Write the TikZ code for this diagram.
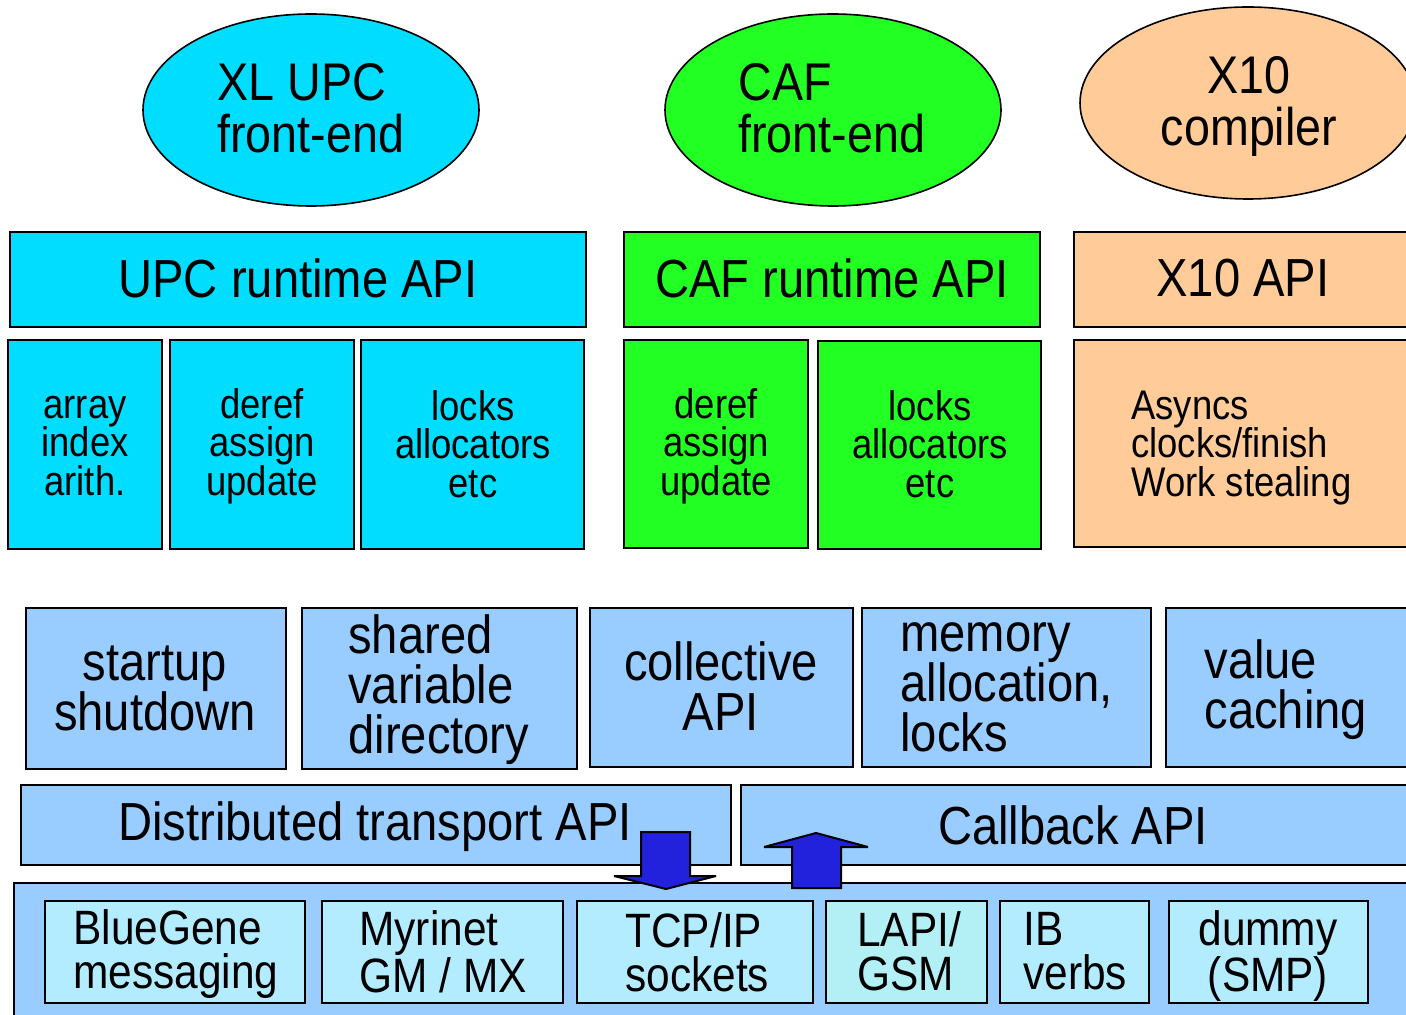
\documentclass[tikz,border=0pt]{standalone}
\usepackage{fontspec}
\setmainfont{Liberation Sans}[FakeStretch=0.88]
\usetikzlibrary{shapes.geometric,fit}
\definecolor{upc}{HTML}{00DDFF}
\definecolor{caf}{HTML}{22FF22}
\definecolor{xten}{HTML}{FFCC99}
\definecolor{lblue}{HTML}{99CCFF}
\definecolor{pale}{HTML}{B3EBFF}
\definecolor{palecyan}{HTML}{B3F0F5}
\definecolor{arrowblue}{HTML}{2222DD}
\tikzset{
 blk/.style={draw=black, line width=1pt, inner sep=0pt, rectangle},
 oval/.style={draw=black, line width=0.8pt, ellipse, inner sep=0pt, minimum width=168pt, minimum height=96pt},
 big/.style={font=\fontsize{26.8}{25}\selectfont, inner sep=0pt},
 ovaltxt/.style={font=\fontsize{26.5}{26}\selectfont, inner sep=0pt},
 mid/.style={font=\fontsize{20.7}{19.3}\selectfont, inner sep=0pt},
 low/.style={font=\fontsize{24.1}{22}\selectfont, inner sep=0pt},
 blockarrow/.style={draw=black, line width=1pt, fill=arrowblue, line join=miter, miter limit=3}
}
\begin{document}
\begin{tikzpicture}[x=0.5pt,y=-0.5pt]
\useasboundingbox (0,0) rectangle (1406,1015);
\clip (0,0) rectangle (1406,1015);

% ellipses
\node[oval, fill=upc] (upcfe) at (311,110) {};
\node[oval, fill=caf] (caffe) at (833,110) {};
\node[oval, fill=xten] (x10c) at (1248,103) {};
\node[ovaltxt, anchor=west, align=left] (upcfet) at (217,108) {XL UPC\\front-end};
\node[ovaltxt, anchor=west, align=left] (caffet) at (738,108) {CAF\\front-end};
\node[ovaltxt, align=center] (x10ct) at (1249,107) {X10\\compiler};

% row 2
\node[blk, fill=upc, fit={(10,232) (586,327)}] (upcapi) {};
\node[blk, fill=caf, fit={(624,232) (1040,327)}] (cafapi) {};
\node[blk, fill=xten, fit={(1074,232) (1420,327)}] (x10api) {};
\node[big] (upcapit) at (298,278) {UPC runtime API};
\node[big] (cafapit) at (832,278) {CAF runtime API};
\node[big] (x10apit) at (1243,278) {X10 API};

% row 3
\node[blk, fill=upc, fit={(8,340) (162,549)}] (arr) {};
\node[blk, fill=upc, fit={(170,340) (354,549)}] (der) {};
\node[blk, fill=upc, fit={(361,340) (584,549)}] (lck) {};
\node[blk, fill=caf, fit={(624,340) (808,548)}] (cder) {};
\node[blk, fill=caf, fit={(818,341) (1041,549)}] (clck) {};
\node[blk, fill=xten, fit={(1074,340) (1420,547)}] (xasy) {};
\node[mid, align=center] (arrt) at (85,446) {array\\index\\arith.};
\node[mid, align=center] (dert) at (262,446) {deref\\assign\\update};
\node[mid, align=center] (lckt) at (473,444) {locks\\allocators\\etc};
\node[mid, align=center] (cdert) at (716,446) {deref\\assign\\update};
\node[mid, align=center] (clckt) at (930,444) {locks\\allocators\\etc};
\node[mid, anchor=west, align=left] (xasyt) at (1131,448) {Asyncs\\clocks/finish\\Work stealing};

% row 4
\node[blk, fill=lblue, fit={(26,608) (286,769)}] (start) {};
\node[blk, fill=lblue, fit={(302,608) (577,769)}] (shar) {};
\node[blk, fill=lblue, fit={(590,608) (853,767)}] (coll) {};
\node[blk, fill=lblue, fit={(862,608) (1151,767)}] (mem) {};
\node[blk, fill=lblue, fit={(1166,608) (1420,767)}] (val) {};
\node[big, align=center] (startt) at (155,688) {startup\\shutdown};
\node[big, anchor=west, align=left] (shart) at (348,690) {shared\\variable\\directory};
\node[big, align=center] (collt) at (721,686) {collective\\API};
\node[big, anchor=west, align=left] (memt) at (900,687) {memory\\allocation,\\locks};
\node[big, anchor=west, align=left] (valt) at (1204,690) {value\\caching};

% row 5
\node[blk, fill=lblue, fit={(21,785) (731,865)}] (dist) {};
\node[blk, fill=lblue, fit={(741,785) (1420,865)}] (cb) {};
\node[big] (distt) at (375,827) {Distributed transport API};
\node[big] (cbt) at (1073,825) {Callback API};

% bottom
\node[blk, fill=lblue, fit={(14,883) (1420,1030)}] (cont) {};
\node[blk, fill=pale, fit={(45,901) (305,1003)}] (bg) {};
\node[blk, fill=pale, fit={(322,901) (563,1003)}] (myr) {};
\node[blk, fill=pale, fit={(577,901) (813,1003)}] (tcp) {};
\node[blk, fill=palecyan, fit={(826,901) (987,1003)}] (lapi) {};
\node[blk, fill=pale, fit={(1000,901) (1149,1003)}] (ib) {};
\node[blk, fill=pale, fit={(1169,901) (1368,1003)}] (dum) {};
\node[low, anchor=west, align=left] (bgt) at (73,954) {BlueGene\\messaging};
\node[low, anchor=west, align=left] (myrt) at (359,952) {Myrinet\\GM / MX};
\node[low, anchor=west, align=left] (tcpt) at (625,952) {TCP/IP\\sockets};
\node[low, anchor=west, align=left] (lapit) at (857,951) {LAPI/\\GSM};
\node[low, anchor=west, align=left] (ibt) at (1023,951) {IB\\verbs};
\node[low, align=center] (dumt) at (1268,956) {dummy\\(SMP)};

% block arrows
\draw[blockarrow] (641,832) -- (690,832) -- (690,876) -- (716,876) -- (666,889) -- (614,876) -- (641,876) -- cycle;
\draw[blockarrow] (792,888) -- (841,888) -- (841,847) -- (868,847) -- (816,833) -- (764,847) -- (792,847) -- cycle;
\end{tikzpicture}
\end{document}
